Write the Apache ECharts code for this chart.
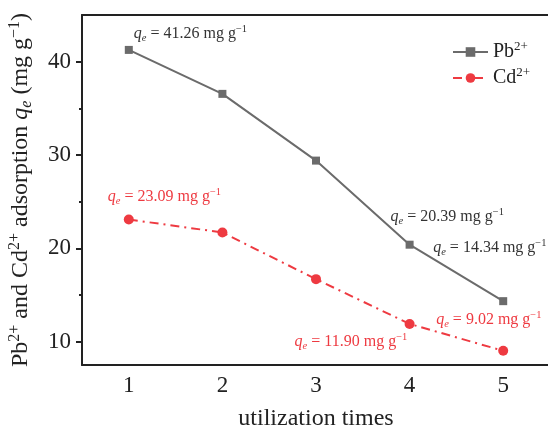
<!DOCTYPE html>
<html>
<head>
<meta charset="utf-8">
<script src="https://cdn.jsdelivr.net/npm/echarts@6/dist/echarts.min.js"></script>
<style>
  html, body { margin: 0; padding: 0; background: #fff; }
  #main { width: 548px; height: 426px; }
</style>
</head>
<body>
<div id="main"></div>
<script>
// 使用次数
var times = ['1', '2', '3', '4', '5'];
// Pb2+ 吸附量
var pbData = [41.26, 36.55, 29.4, 20.39, 14.34];
// Cd2+ 吸附量
var cdData = [23.09, 21.7, 16.7, 11.90, 9.02];
// 标注的点
var pbLabeled = [0, 3, 4];
var cdLabeled = [0, 3, 4];
// 刻度
var yTicks = [10, 20, 30, 40];
var yMinorTicks = [15, 25, 35];

// 标注位置 (相对数据点)
var pbOffsets = { 0: [5, -16], 3: [-19, -28], 4: [-70, -53] };
var cdOffsets = { 0: [-21, -23], 3: [-115, 18], 4: [-67, -31] };

var font = '"Liberation Serif", "Times New Roman", serif';
var pbColor = '#6b6b6b';
var cdColor = '#ee3a41';

function richFor(color) {
    return {
        q: { fontFamily: font, fontSize: 16, fontStyle: 'italic', color: color, lineHeight: 20 },
        sub: { fontFamily: font, fontSize: 10.5, fontStyle: 'italic', color: color, verticalAlign: 'bottom', lineHeight: 11 },
        t: { fontFamily: font, fontSize: 16, color: color, lineHeight: 20 },
        sup: { fontFamily: font, fontSize: 10.5, color: color, verticalAlign: 'top', lineHeight: 15 }
    };
}

function qeText(v) {
    return '{q|q}{sub|e}{t| = ' + v.toFixed(2) + ' mg g}{sup|\u22121}';
}

function buildData(values, labeled, offsets) {
    return values.map(function (v, i) {
        if (labeled.indexOf(i) < 0) return v;
        return { value: v, label: { show: true, offset: offsets[i] } };
    });
}

var myChart = echarts.init(document.getElementById('main'));

var axisLineStyle = { color: '#222', width: 2 };

var option = {
    animation: false,
    grid: { left: 82, right: -2, top: 15, bottom: 61, outerBoundsMode: 'none' },
    legend: {
        orient: 'vertical',
        left: 447,
        top: 35,
        itemWidth: 35,
        itemHeight: 12,
        itemGap: 4,
        data: ['Pb', 'Cd'],
        formatter: function (name) {
            return '{t|' + name + '}{sup|2+}';
        },
        textStyle: {
            rich: {
                t: { fontFamily: font, fontSize: 20, color: '#222', lineHeight: 24 },
                sup: { fontFamily: font, fontSize: 13, color: '#222', verticalAlign: 'top', lineHeight: 20 }
            }
        }
    },
    xAxis: [{
        type: 'category',
        data: times,
        boundaryGap: true,
        name: 'utilization times',
        nameLocation: 'middle',
        nameGap: 42,
        nameTextStyle: { fontFamily: font, fontSize: 24, color: '#222' },
        axisLine: { lineStyle: axisLineStyle },
        axisTick: { alignWithLabel: true, length: 5, lineStyle: { color: '#222', width: 2 } },
        axisLabel: { fontFamily: font, fontSize: 23, color: '#222', margin: 9 },
        splitLine: { show: false }
    }, {
        type: 'category',
        data: times,
        position: 'top',
        boundaryGap: true,
        axisLine: { lineStyle: axisLineStyle },
        axisTick: { show: false },
        axisLabel: { show: false }
    }],
    yAxis: [{
        type: 'value',
        min: 7.5,
        max: 45,
        name: '{t|Pb}{sup|2+}{t| and Cd}{sup|2+}{t| adsorption }{q|q}{sub|e}{t| (mg g}{sup|\u22121}{t|)}',
        nameLocation: 'middle',
        nameGap: 47,
        nameTextStyle: {
            rich: {
                t: { fontFamily: font, fontSize: 24, color: '#222', lineHeight: 28 },
                q: { fontFamily: font, fontSize: 24, fontStyle: 'italic', color: '#222', lineHeight: 28 },
                sub: { fontFamily: font, fontSize: 16, fontStyle: 'italic', color: '#222', verticalAlign: 'bottom', lineHeight: 16 },
                sup: { fontFamily: font, fontSize: 16, color: '#222', verticalAlign: 'top', lineHeight: 22 }
            }
        },
        axisLine: { show: true, lineStyle: axisLineStyle },
        axisTick: { show: true, customValues: yTicks, length: 6, lineStyle: { color: '#222', width: 2 } },
        axisLabel: { customValues: yTicks, fontFamily: font, fontSize: 23, color: '#222', margin: 11 },
        splitLine: { show: false }
    }, {
        type: 'value',
        min: 7.5,
        max: 45,
        position: 'left',
        axisLine: { show: false },
        axisTick: { show: true, customValues: yMinorTicks, length: 3, lineStyle: { color: '#222', width: 2 } },
        axisLabel: { show: false },
        splitLine: { show: false }
    }],
    series: [{
        name: 'Pb',
        type: 'line',
        data: buildData(pbData, pbLabeled, pbOffsets),
        symbol: 'rect',
        symbolSize: 8,
        color: pbColor,
        lineStyle: { color: pbColor, width: 2 },
        itemStyle: { color: pbColor },
        label: {
            show: false,
            position: 'inside',
            align: 'left',
            verticalAlign: 'middle',
            formatter: function (p) { return qeText(p.value); },
            rich: richFor('#333')
        }
    }, {
        name: 'Cd',
        type: 'line',
        data: buildData(cdData, cdLabeled, cdOffsets),
        symbol: 'circle',
        symbolSize: 10,
        color: cdColor,
        lineStyle: { color: cdColor, width: 2, type: [9, 5, 2, 5] },
        itemStyle: { color: cdColor },
        label: {
            show: false,
            position: 'inside',
            align: 'left',
            verticalAlign: 'middle',
            formatter: function (p) { return qeText(p.value); },
            rich: richFor(cdColor)
        }
    }]
};

// 使用刚指定的配置项和数据显示图表。
myChart.setOption(option);
</script>
</body>
</html>
